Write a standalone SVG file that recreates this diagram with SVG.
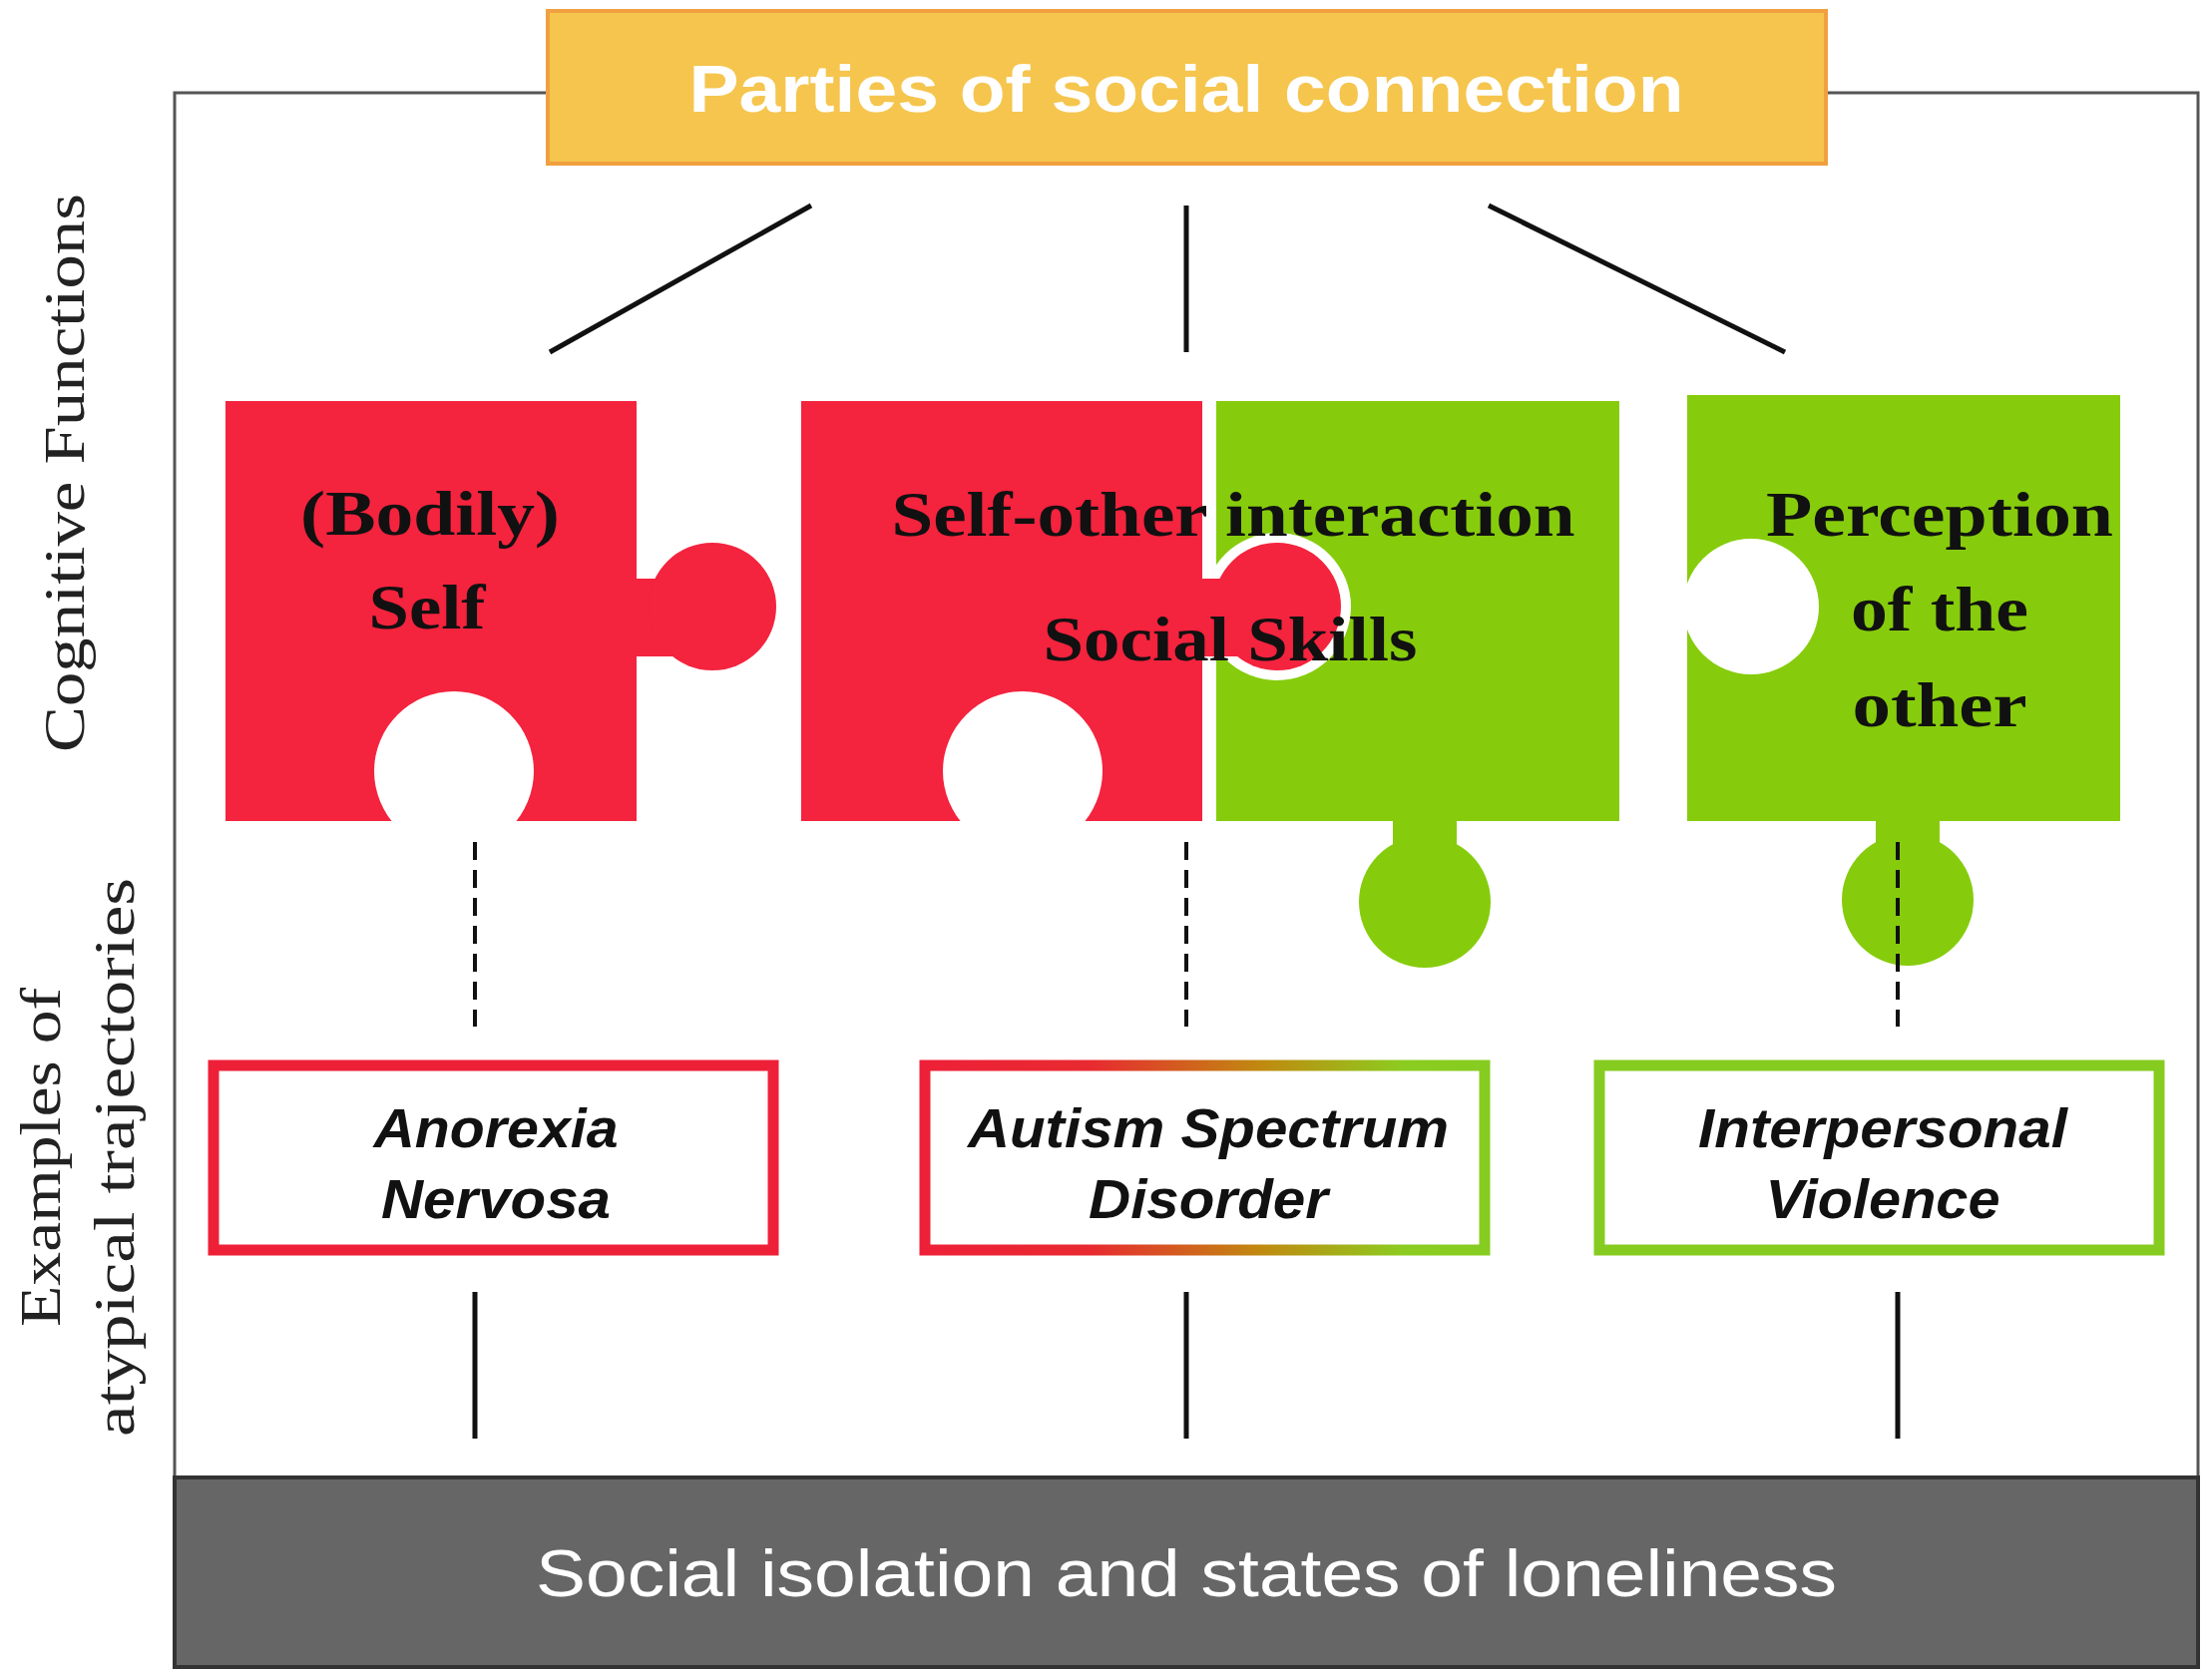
<svg xmlns="http://www.w3.org/2000/svg" width="2217" height="1682" viewBox="0 0 2217 1682">
<defs>
<linearGradient id="asd" gradientUnits="userSpaceOnUse" x1="922" y1="0" x2="1493" y2="0">
<stop offset="0" stop-color="#ee2038"/><stop offset="0.3" stop-color="#e82a30"/><stop offset="0.6" stop-color="#c08a10"/><stop offset="0.85" stop-color="#8ccc20"/><stop offset="1" stop-color="#86cc20"/>
</linearGradient>
</defs>
<style>
.red{fill:#f4233e}.green{fill:#86cc0c}.hole{fill:#fff}
.pt{font-family:"Liberation Serif",serif;font-weight:bold;font-size:64px;fill:#111;text-anchor:middle}
.bt{font-family:"Liberation Sans",Arial,sans-serif;font-weight:bold;font-style:italic;font-size:56px;fill:#111;text-anchor:middle}
.side{font-family:"Liberation Serif",serif;font-size:58px;fill:#222;text-anchor:middle}
.ln{stroke:#111;stroke-width:5;fill:none}
.dash{stroke:#111;stroke-width:4;stroke-dasharray:18 10;fill:none}
</style>
<rect width="2217" height="1682" fill="#fff"/>
<rect id="frame" x="175" y="93" width="2028" height="1578" fill="none" stroke="#555" stroke-width="3"/>
<g id="top"><rect x="549" y="11" width="1281" height="153" fill="#f5c54e" stroke="#f0a040" stroke-width="4"/>
<text x="1189" y="112" font-family="Liberation Sans,Arial,sans-serif" font-weight="bold" font-size="66" fill="#fff" text-anchor="middle" textLength="997" lengthAdjust="spacingAndGlyphs">Parties of social connection</text></g>
<g id="side-labels">
<text class="side" transform="translate(84,474) rotate(-90)" textLength="560" lengthAdjust="spacingAndGlyphs">Cognitive Functions</text>
<text class="side" transform="translate(60,1160) rotate(-90)" textLength="340" lengthAdjust="spacingAndGlyphs">Examples of</text>
<text class="side" transform="translate(134,1160) rotate(-90)" textLength="560" lengthAdjust="spacingAndGlyphs">atypical trajectories</text>
</g>
<g id="piece-self">
<rect class="red" x="226" y="402" width="412" height="421"/>
<rect class="red" x="630" y="580" width="50" height="78"/>
<circle class="red" cx="714" cy="608" r="64"/>
<circle class="hole" cx="455" cy="773" r="80"/>
<rect class="hole" x="403" y="773" width="113" height="52"/>
<text class="pt" x="431" y="536" textLength="260" lengthAdjust="spacingAndGlyphs">(Bodily)</text>
<text class="pt" x="428" y="630" textLength="117" lengthAdjust="spacingAndGlyphs">Self</text>
</g>
<g id="piece-perception">
<rect class="green" x="1691" y="396" width="434" height="427"/>
<circle class="hole" cx="1755" cy="608" r="68"/>
<rect class="green" x="1880" y="815" width="64" height="40"/>
<circle class="green" cx="1912" cy="902" r="66"/>
<text class="pt" x="1944" y="537" textLength="348" lengthAdjust="spacingAndGlyphs">Perception</text>
<text class="pt" x="1944" y="632" textLength="178" lengthAdjust="spacingAndGlyphs">of the</text>
<text class="pt" x="1944" y="728" textLength="175" lengthAdjust="spacingAndGlyphs">other</text>
</g>
<g id="piece-interaction">
<rect class="green" x="1219" y="402" width="404" height="421"/>
<rect class="green" x="1396" y="815" width="64" height="40"/>
<circle class="green" cx="1428" cy="904" r="66"/>
<rect class="red" x="803" y="402" width="402" height="421"/>
<circle class="hole" cx="1025" cy="773" r="80"/>
<rect class="hole" x="972" y="773" width="106" height="52"/>
<circle class="hole" cx="1280" cy="608" r="74"/>
<rect class="red" x="1200" y="580" width="40" height="78"/>
<circle class="red" cx="1280" cy="608" r="64"/>
<text class="pt" x="1236" y="537" textLength="685" lengthAdjust="spacingAndGlyphs">Self-other interaction</text>
<text class="pt" x="1233" y="662" textLength="375" lengthAdjust="spacingAndGlyphs">Social Skills</text>
</g>
<g id="connectors">
<line class="ln" x1="813" y1="206" x2="551" y2="353"/>
<line class="ln" x1="1189" y1="206" x2="1189" y2="353"/>
<line class="ln" x1="1492" y1="206" x2="1789" y2="353"/>
<line class="dash" x1="476" y1="844" x2="476" y2="1029"/>
<line class="dash" x1="1189" y1="844" x2="1189" y2="1029"/>
<line class="dash" x1="1902" y1="844" x2="1902" y2="1029"/>
<line class="ln" x1="476" y1="1295" x2="476" y2="1442"/>
<line class="ln" x1="1189" y1="1295" x2="1189" y2="1442"/>
<line class="ln" x1="1902" y1="1295" x2="1902" y2="1442"/>
</g>
<g id="box-an"><rect x="214" y="1068" width="561" height="185" fill="#fff" stroke="#ee2038" stroke-width="11"/>
<text class="bt" x="497" y="1150" textLength="245" lengthAdjust="spacingAndGlyphs">Anorexia</text><text class="bt" x="497" y="1221" textLength="230" lengthAdjust="spacingAndGlyphs">Nervosa</text></g>
<g id="box-asd"><rect x="927" y="1068" width="561" height="185" fill="#fff" stroke="url(#asd)" stroke-width="11"/>
<text class="bt" x="1211" y="1150" textLength="482" lengthAdjust="spacingAndGlyphs">Autism Spectrum</text><text class="bt" x="1211" y="1221" textLength="240" lengthAdjust="spacingAndGlyphs">Disorder</text></g>
<g id="box-iv"><rect x="1603" y="1068" width="561" height="185" fill="#fff" stroke="#86cc20" stroke-width="11"/>
<text class="bt" x="1887" y="1150" textLength="370" lengthAdjust="spacingAndGlyphs">Interpersonal</text><text class="bt" x="1887" y="1221" textLength="235" lengthAdjust="spacingAndGlyphs">Violence</text></g>
<g id="bottom"><rect x="175" y="1481" width="2028" height="190" fill="#666" stroke="#333" stroke-width="4"/>
<text x="1189" y="1600" font-family="Liberation Sans,Arial,sans-serif" font-size="66" fill="#fff" text-anchor="middle" textLength="1304" lengthAdjust="spacingAndGlyphs">Social isolation and states of loneliness</text></g>
</svg>
